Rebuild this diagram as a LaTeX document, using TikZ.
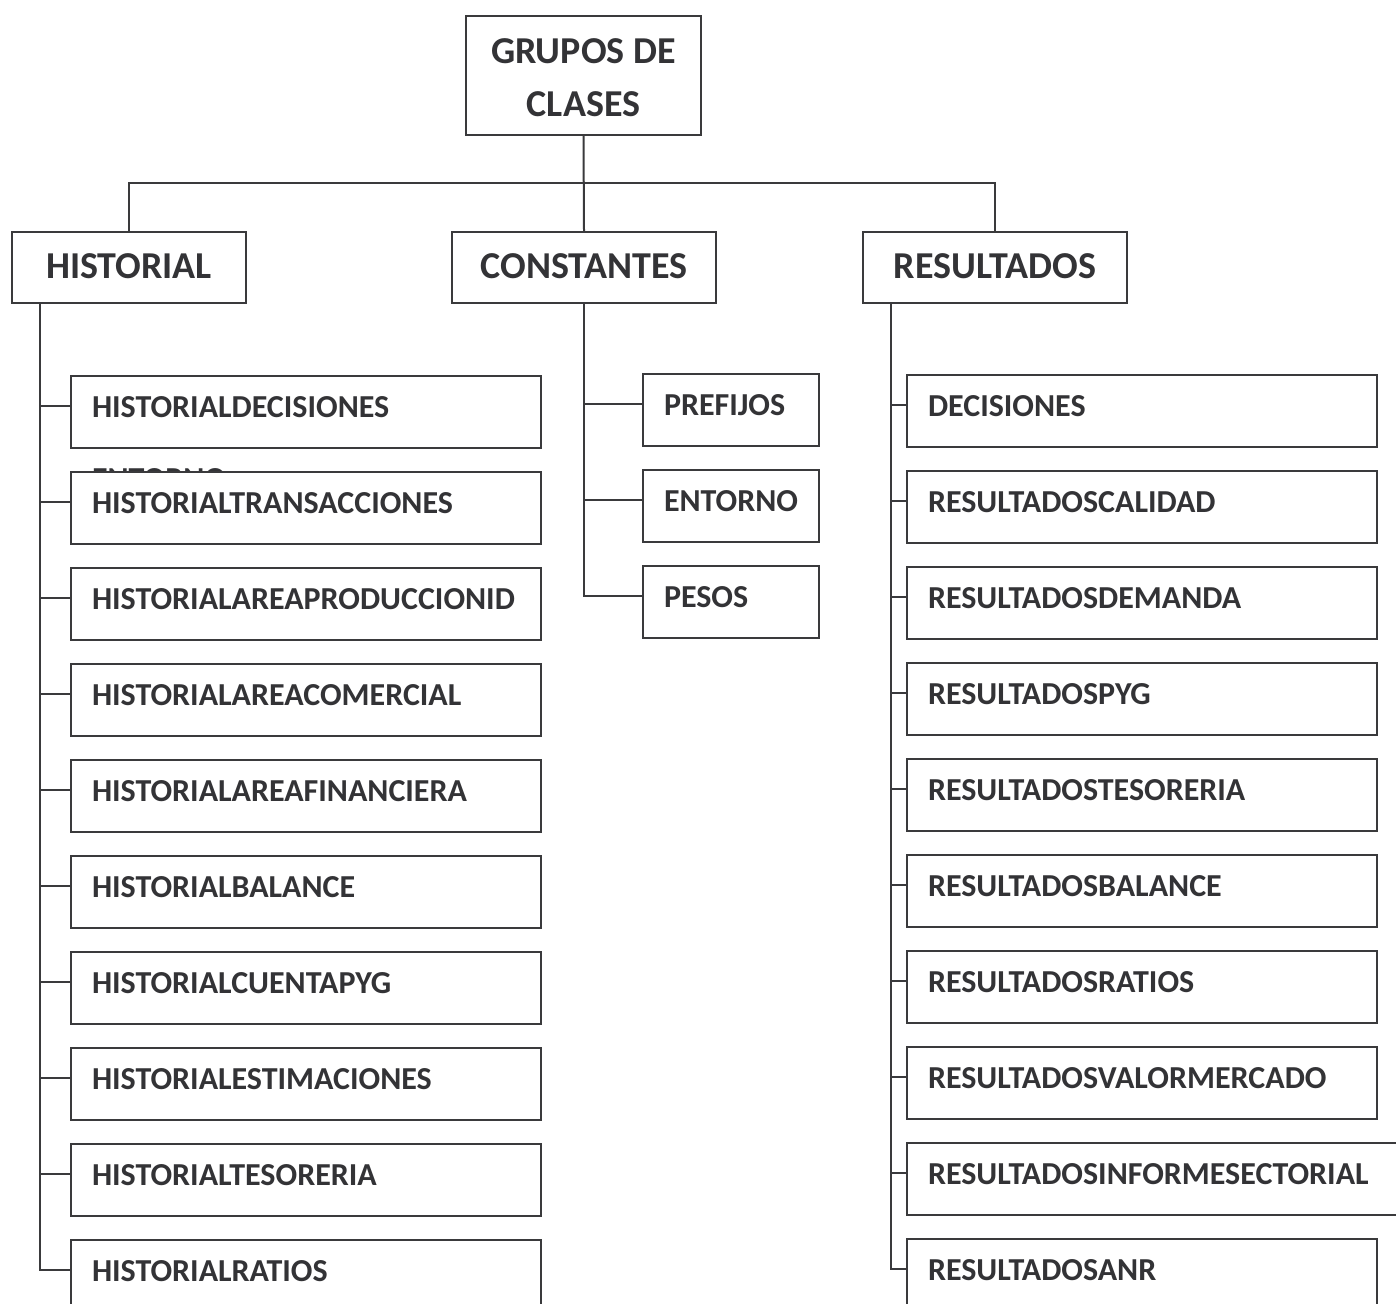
\documentclass[tikz,border=0pt]{standalone}
\usepackage{fontspec}
\setmainfont{Carlito}
\usetikzlibrary{calc}
\definecolor{ink}{HTML}{3A3A3C}
\definecolor{txt}{HTML}{333336}
\begin{document}
\begin{tikzpicture}[x=0.5pt,y=-0.5pt,
  line width=1pt, draw=ink,
  every node/.style={text=txt},
  head/.style={draw=ink, line width=1pt, fill=white, inner sep=0pt,
    font=\fontsize{19}{26.5}\selectfont\bfseries,
    text height=12pt, text depth=1pt},
  leaf/.style={draw=ink, line width=1pt, fill=white, anchor=north west,
    minimum height=36pt, inner xsep=10.5pt, inner ysep=0pt,
    text width=#1, align=left,
    font=\fontsize{16}{19}\selectfont\bfseries,
    text height=8.5pt, text depth=3pt},
  wide/.style={leaf=214pt, minimum width=235pt},
  narrow/.style={leaf=67pt, minimum width=88pt},
  link/.style={draw=ink, line width=1pt}]
\useasboundingbox (0,0) rectangle (1396,1304);
\clip (0,0) rectangle (1396,1304);

% root and the three groups
\node[draw=ink, line width=1pt, minimum width=117.5pt, minimum height=59.5pt, inner sep=0pt]
  (root) at (583.5,75.5) {};
\node[align=center, inner sep=0pt, font=\fontsize{19}{26.5}\selectfont\bfseries]
  (roottext) at (583.5,78) {GRUPOS DE\\CLASES};
\node[head, minimum width=117pt, minimum height=35.5pt] (hist) at (129,267.5) {HISTORIAL};
\node[head, minimum width=132pt, minimum height=35.5pt] (cons) at (584,267.5) {CONSTANTES};
\node[head, minimum width=132pt, minimum height=35.5pt] (res)  at (995,267.5) {RESULTADOS};

\draw[link] (root.south) -- (cons.north);
\draw[link] (hist.north) -- ++(0,-48) -| (res.north);

% stray label partly covered by the next box
\node[anchor=base west, inner sep=0pt, font=\fontsize{16}{19}\selectfont\bfseries]
  (stray) at (91,489) {ENTORNO};

% HISTORIAL leaves
\foreach \i/\name in {0/HISTORIALDECISIONES,1/HISTORIALTRANSACCIONES,
  2/HISTORIALAREAPRODUCCIONID,3/HISTORIALAREACOMERCIAL,4/HISTORIALAREAFINANCIERA,
  5/HISTORIALBALANCE,6/HISTORIALCUENTAPYG,7/HISTORIALESTIMACIONES,
  8/HISTORIALTESORERIA,9/HISTORIALRATIOS}
  \node[wide] (h\i) at (70,{375+96*\i}) {\name};

% RESULTADOS leaves
\foreach \i/\name in {0/DECISIONES,1/RESULTADOSCALIDAD,2/RESULTADOSDEMANDA,
  3/RESULTADOSPYG,4/RESULTADOSTESORERIA,5/RESULTADOSBALANCE,6/RESULTADOSRATIOS,
  7/RESULTADOSVALORMERCADO,9/RESULTADOSANR}
  \node[wide] (r\i) at (906,{374+96*\i}) {\name};
\node[leaf=238pt, minimum width=259pt] (r8) at (906,1142) {RESULTADOSINFORMESECTORIAL};

% CONSTANTES leaves
\foreach \i/\name in {0/PREFIJOS,1/ENTORNO,2/PESOS}
  \node[narrow] (c\i) at (642,{373+96*\i}) {\name};

% trunks
\coordinate (htop) at ($(hist.south west)+(29,0)$);
\coordinate (rtop) at ($(res.south west)+(29,0)$);
\draw[link] (htop) |- ([yshift=3pt]h9.west);
\draw[link] (rtop) |- ([yshift=3pt]r9.west);
\draw[link] (cons.south) |- ([yshift=3pt]c2.west);

% branches
\foreach \i in {0,...,8} {
  \draw[link] ([yshift=3pt]h\i.west) -- ([yshift=3pt]h\i.west -| htop);
  \draw[link] ([yshift=3pt]r\i.west) -- ([yshift=3pt]r\i.west -| rtop);
}
\foreach \i in {0,1}
  \draw[link] ([yshift=3pt]c\i.west) -- ([yshift=3pt]c\i.west -| cons.south);
\end{tikzpicture}
\end{document}
